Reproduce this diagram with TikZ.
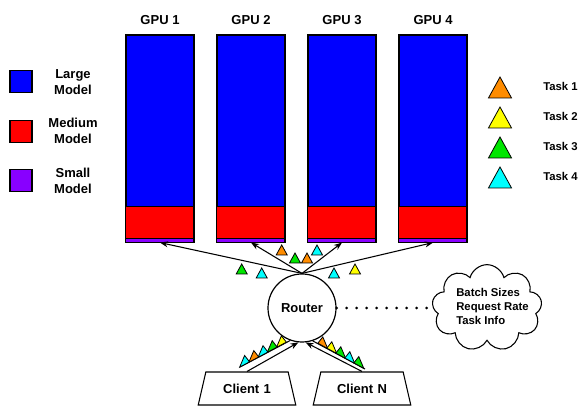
\documentclass[tikz,border=0pt]{standalone}
\usepackage{fontspec}
\setmainfont{Liberation Sans}
\usetikzlibrary{arrows.meta,shapes.geometric,shapes.symbols}

\definecolor{lblue}{RGB}{0,0,255}
\definecolor{lred}{RGB}{255,0,0}
\definecolor{lpurple}{RGB}{136,0,255}
\definecolor{torange}{RGB}{255,140,0}
\definecolor{tyellow}{RGB}{255,255,0}
\definecolor{tgreen}{RGB}{0,230,0}
\definecolor{tcyan}{RGB}{0,255,255}

\begin{document}
\begin{tikzpicture}[x=0.75pt, y=0.75pt, > = {Stealth[length=6pt,width=4.5pt]},
    every node/.style = {font=\bfseries\fontsize{9.75}{12}\selectfont},
    gpubox/.style = {draw, line width=0.9pt, fill=lblue, minimum width=51pt, minimum height=155.25pt, inner sep=0},
    legbox/.style = {draw, line width=0.9pt, minimum size=16.5pt, inner sep=0},
    tasklabel/.style = {anchor=west, inner sep=0, font=\bfseries\fontsize{8.5}{10}\selectfont},
    client/.style = {draw, trapezium, trapezium left angle=75, trapezium right angle=75, trapezium stretches=true,
                     text width=38pt, align=center, inner xsep=1pt, minimum width=73.5pt, minimum height=24.75pt, line width=0.8pt},
    link/.style = {->, line width=0.8pt},
    tri/.pic = {\filldraw[pic actions, line width=0.6pt] (-5.5,0) -- (5.5,0) -- (0,10) -- cycle;}]

    \useasboundingbox (0,0) rectangle (585,406);

    % models legend
    \node[legbox, fill=lblue] (large) at (21,324.5) {};
    \node[align=center] (largetxt) at (73,324) {Large\\Model};
    \node[legbox, fill=lred] (medium) at (21,274.5) {};
    \node[align=center] (mediumtxt) at (73,275) {Medium\\Model};
    \node[legbox, fill=lpurple] (small) at (21,225.5) {};
    \node[align=center] (smalltxt) at (73,225) {Small\\Model};

    % gpus
    \foreach \i in {1,...,4} {
        \node[gpubox] (gpu\i) at (69+91*\i,267.5) {};
        \filldraw[fill=lpurple, line width=0.9pt] (gpu\i.south west) rectangle ++(68,4);
        \filldraw[fill=lred, line width=0.9pt] (gpu\i.south west) ++(0,4) rectangle ++(68,32);
        \node (gpulabel\i) at (69+91*\i,386) {GPU \i};
    }

    % router
    \node[circle, draw, line width=0.9pt, minimum size=51pt, inner sep=0] (router) at (302,98) {Router};
    \foreach \i in {1,...,4}
        \draw[link] (router.north) -- (gpu\i.south);

    % dispatched tasks
    \foreach \x/\y/\c in {281.7/151/torange, 295/143/tgreen, 307/143/torange, 317/151/tcyan,
                          241.7/132/tgreen, 261.7/128/tcyan, 334/128/tcyan, 355/132/tyellow}
        \pic[fill=\c] at (\x,\y) {tri};

    % clients
    \node[client] (client1) at (247,17.5) {Client 1};
    \node[client] (clientN) at (362,17.5) {Client N};
    \draw[link] (client1.north) -- (router.-96);
    \draw[link] (clientN.north) -- (router.-84);

    % queued tasks
    \coordinate (q1) at (240,39);
    \coordinate (qN) at (365,37);
    \draw[line width=0.8pt] (q1) -- (router.-110);
    \draw[line width=0.8pt] (router.-72) -- (qN);
    \foreach \x/\y/\c in {244.6/41.5/tcyan, 253.8/46.4/torange, 263/51.3/tcyan, 272.2/56.3/tgreen, 281.4/61.2/tyellow}
        \pic[fill=\c, scale=0.9, yslant=0.536] at (\x,\y) {tri};
    \foreach \x/\y/\c in {322.8/60.1/torange, 331.8/55.2/tyellow, 340.8/50.2/tgreen, 349.8/45.3/tcyan, 358.8/40.4/tgreen}
        \pic[fill=\c, scale=0.9, yslant=-0.547] at (\x,\y) {tri};

    % tasks legend
    \foreach \c [count=\i] in {torange, tyellow, tgreen, tcyan} {
        \pic[fill=\c, scale=2.1] at (500,338-30*\i) {tri};
        \node[tasklabel] (task\i) at (543,350-30*\i) {Task \i};
    }

    % statistics
    \node[cloud, draw, cloud puffs=9, cloud ignores aspect, minimum width=82.5pt, minimum height=65pt, line width=0.8pt] (cloud) at (487,98) {};
    \node[anchor=west, align=left, inner sep=0, font=\bfseries\fontsize{8.5}{10.5}\selectfont] (info) at (456,100) {Batch Sizes\\Request Rate\\Task Info};
    \draw[line width=2.2pt, line cap=round, dash pattern=on 0pt off 7.5pt] (router.east) -- (cloud.west);

\end{tikzpicture}
\end{document}
